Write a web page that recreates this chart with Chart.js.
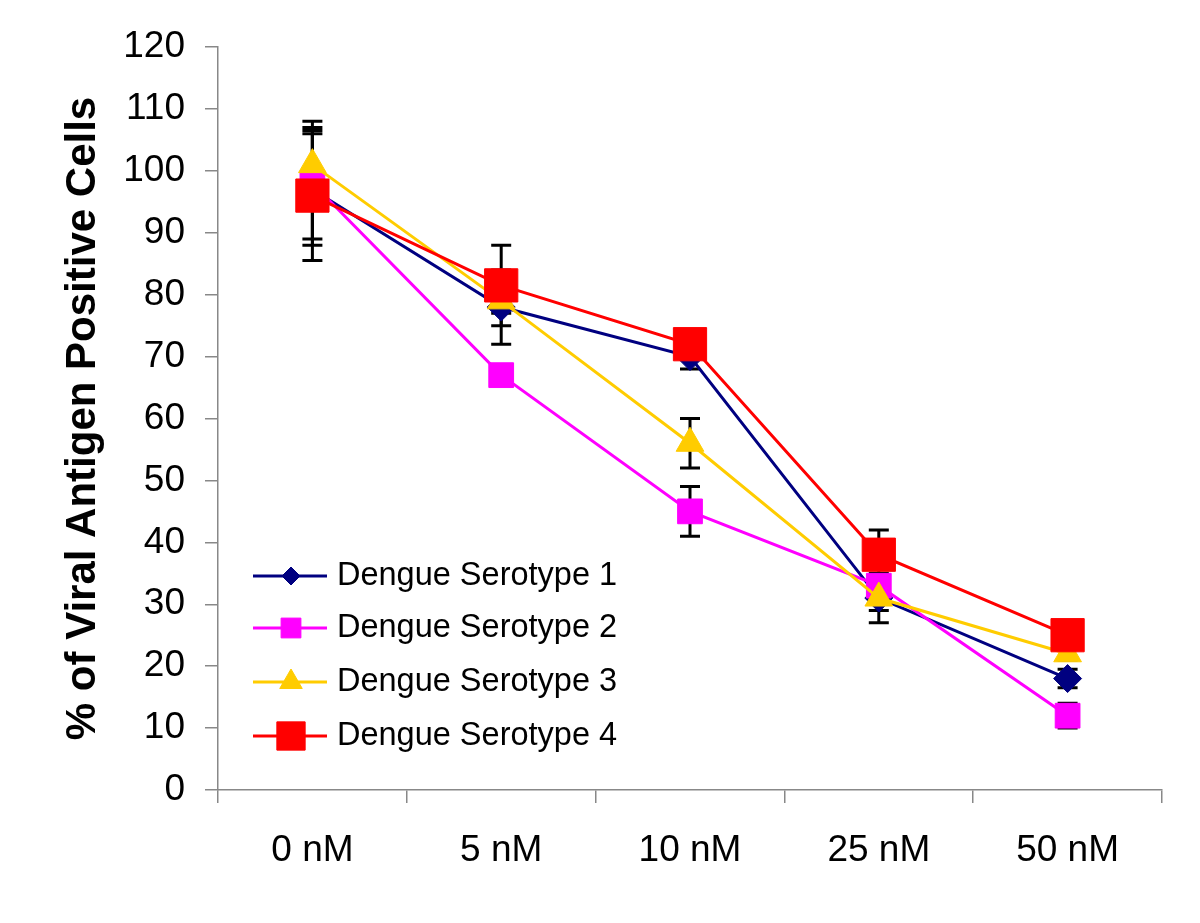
<!DOCTYPE html>
<html>
<head>
<meta charset="utf-8">
<script src="https://cdn.jsdelivr.net/npm/chart.js@4.4.0/dist/chart.umd.min.js"></script>
<style>
  html, body { margin: 0; padding: 0; background: #fff; }
  #wrap { width: 1200px; height: 923px; }
</style>
</head>
<body>
<div id="wrap"><canvas id="myChart" width="1200" height="923"></canvas></div>
<script>
// data
var doses = ['0 nM', '5 nM', '10 nM', '25 nM', '50 nM'];
var sero1 = [97, 78, 70, 31, 18];
var sero2 = [98, 67, 45, 33, 12];
var sero3 = [101, 79, 56, 31, 22];
var sero4 = [96, 81.5, 72, 38, 25];
// error bar half-lengths
var err1 = [9, 6, 2, 4, 1.5];
var err2 = [9, 1, 4, 1, 2];
var err3 = [7, 2, 4, 2, 1];
var err4 = [10.5, 6.5, 1, 4, 1];
var yTicks = [0, 10, 20, 30, 40, 50, 60, 70, 80, 90, 100, 110, 120];

var FONT = "'Liberation Sans', Arial, sans-serif";

var errorBars = {
    id: 'errorBars',
    beforeDatasetsDraw: function(chart) {
        var ctx = chart.ctx;
        var y = chart.scales.y;
        ctx.save();
        ctx.strokeStyle = '#000';
        ctx.lineWidth = 3;
        chart.data.datasets.forEach(function(ds, i) {
            var meta = chart.getDatasetMeta(i);
            meta.data.forEach(function(pt, j) {
                var e = ds.errors[j];
                var top = y.getPixelForValue(ds.data[j] + e);
                var bot = y.getPixelForValue(ds.data[j] - e);
                ctx.beginPath();
                ctx.moveTo(pt.x, top); ctx.lineTo(pt.x, bot);
                ctx.moveTo(pt.x - 10, top); ctx.lineTo(pt.x + 10, top);
                ctx.moveTo(pt.x - 10, bot); ctx.lineTo(pt.x + 10, bot);
                ctx.stroke();
            });
        });
        ctx.restore();
    }
};

var legendBox = {
    id: 'legendBox',
    afterDraw: function(chart) {
        var ctx = chart.ctx;
        var rows = [576, 628, 682, 736];
        ctx.save();
        chart.data.datasets.forEach(function(ds, i) {
            var yy = rows[i];
            ctx.strokeStyle = ds.borderColor;
            ctx.lineWidth = 3;
            ctx.beginPath();
            ctx.moveTo(253, yy); ctx.lineTo(327, yy);
            ctx.stroke();
            ctx.fillStyle = ds.pointBackgroundColor;
            ctx.strokeStyle = ds.pointBackgroundColor;
            ctx.lineWidth = 1;
            Chart.helpers.drawPoint(ctx, {pointStyle: ds.pointStyle, radius: ds.legendRadius, rotation: 0, borderWidth: 1}, 291, yy);
            ctx.fillStyle = '#000';
            ctx.font = '32.5px ' + FONT;
            ctx.textBaseline = 'middle';
            ctx.textAlign = 'left';
            ctx.fillText(ds.label, 337, yy);
        });
        ctx.restore();
    }
};

function series(label, data, errors, color, style, r, lr, order) {
    return {
        label: label,
        data: data,
        errors: errors,
        order: order,
        borderColor: color,
        backgroundColor: color,
        pointBackgroundColor: color,
        pointBorderColor: color,
        pointBorderWidth: 1,
        pointStyle: style,
        pointRadius: r,
        pointHoverRadius: r,
        legendRadius: lr,
        borderWidth: 3,
        fill: false,
        tension: 0
    };
}

var ctx = document.getElementById('myChart').getContext('2d');
var myChart = new Chart(ctx, {
    type: 'line',
    data: {
        labels: doses,
        datasets: [
            series('Dengue Serotype 1', sero1, err1, '#000080', 'rectRot', 14, 9, 4),
            series('Dengue Serotype 2', sero2, err2, '#FF00FF', 'rect', 17.5, 14, 3),
            series('Dengue Serotype 3', sero3, err3, '#FFCC00', 'triangle', 16, 13, 2),
            series('Dengue Serotype 4', sero4, err4, '#FF0000', 'rect', 23.5, 20, 1)
        ]
    },
    options: {
        responsive: false,
        animation: false,
        layout: { padding: { top: 47, right: 38, left: 0, bottom: 0 } },
        plugins: {
            legend: { display: false },
            tooltip: { enabled: false }
        },
        scales: {
            x: {
                type: 'category',
                offset: true,
                grid: { offset: true, drawOnChartArea: false, tickLength: 13, color: '#888', lineWidth: 1.5 },
                border: { color: '#888', width: 1.5 },
                ticks: { color: '#000', font: { family: FONT, size: 37 }, padding: 26, maxRotation: 0 },
                afterFit: function(s) { s.height = 133; }
            },
            y: {
                min: 0,
                max: 120,
                afterBuildTicks: function(s) { s.ticks = yTicks.map(function(v) { return { value: v }; }); },
                grid: { drawOnChartArea: false, tickLength: 13, color: '#888', lineWidth: 1.5 },
                border: { color: '#888', width: 1.5 },
                ticks: { color: '#000', font: { family: FONT, size: 37 }, padding: 20 },
                title: {
                    display: true,
                    text: '% of Viral Antigen Positive Cells',
                    color: '#000',
                    font: { family: FONT, size: 42, weight: 'bold' },
                    padding: { top: 58, bottom: 0 }
                },
                afterFit: function(s) { s.width = 218; }
            }
        }
    },
    plugins: [errorBars, legendBox]
});
</script>
</body>
</html>
